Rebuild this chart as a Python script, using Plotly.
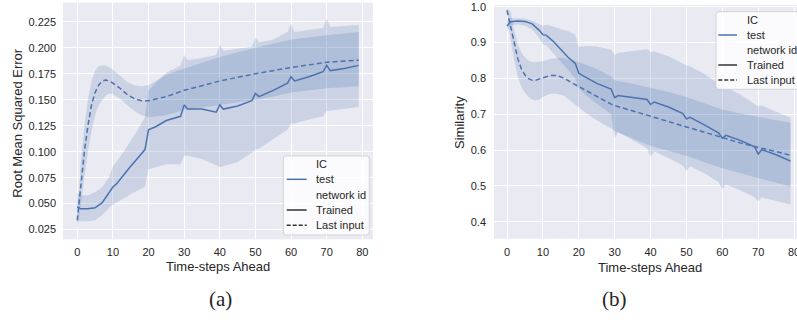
import plotly.graph_objects as go

W, H = 797, 320

# ---------------- Panel (a): Root Mean Squared Error ----------------
a_tr_t = [0, 1, 3, 5, 7, 9, 10, 11, 13, 15, 17, 19, 20, 22, 25, 29, 30, 31, 35, 39, 40, 41,
          45, 49, 50, 51, 55, 59, 60, 61, 65, 69, 70, 71, 75, 79]
a_tr_mean = [0.047, 0.045, 0.045, 0.046, 0.051, 0.061, 0.066, 0.069, 0.078, 0.086, 0.094, 0.102,
             0.121, 0.124, 0.130, 0.134, 0.145, 0.141, 0.141, 0.138, 0.145, 0.141, 0.144, 0.149,
             0.156, 0.153, 0.159, 0.166, 0.172, 0.168, 0.172, 0.177, 0.183, 0.178, 0.180, 0.183]
a_tr_hi = [0.060, 0.058, 0.058, 0.061, 0.066, 0.076, 0.086, 0.090, 0.100, 0.110, 0.121, 0.133,
           0.159, 0.166, 0.176, 0.183, 0.193, 0.188, 0.190, 0.193, 0.203, 0.197, 0.199, 0.201,
           0.210, 0.205, 0.208, 0.215, 0.223, 0.215, 0.217, 0.219, 0.228, 0.220, 0.221, 0.222]
a_tr_lo = [0.033, 0.033, 0.033, 0.034, 0.039, 0.046, 0.049, 0.051, 0.055, 0.059, 0.063, 0.066,
           0.083, 0.085, 0.088, 0.088, 0.096, 0.096, 0.093, 0.087, 0.085, 0.086, 0.090, 0.099,
           0.102, 0.103, 0.112, 0.121, 0.127, 0.127, 0.131, 0.134, 0.139, 0.139, 0.141, 0.143]

a_li_t = [0, 1, 2, 3, 4, 5, 6, 7, 8, 9, 10, 12, 14, 16, 18, 20, 25, 30, 40, 50, 55, 60, 70, 79]
a_li_mean = [0.034, 0.068, 0.100, 0.125, 0.145, 0.157, 0.164, 0.168, 0.169, 0.168, 0.166, 0.161,
             0.155, 0.151, 0.149, 0.149, 0.153, 0.159, 0.168, 0.175, 0.178, 0.181, 0.186, 0.188]
a_li_hi = [0.045, 0.090, 0.125, 0.150, 0.168, 0.178, 0.182, 0.183, 0.183, 0.181, 0.179, 0.173,
           0.167, 0.164, 0.163, 0.164, 0.174, 0.180, 0.191, 0.200, 0.204, 0.208, 0.212, 0.215]
a_li_lo = [0.024, 0.050, 0.075, 0.100, 0.120, 0.135, 0.145, 0.150, 0.154, 0.156, 0.155, 0.151,
           0.145, 0.139, 0.135, 0.133, 0.135, 0.140, 0.145, 0.150, 0.153, 0.157, 0.161, 0.163]

# ---------------- Panel (b): Similarity ----------------
b_tr_t = a_tr_t
b_tr_mean = [0.946, 0.958, 0.960, 0.959, 0.952, 0.934, 0.922, 0.920, 0.902, 0.880, 0.859, 0.842,
             0.814, 0.803, 0.786, 0.770, 0.746, 0.752, 0.747, 0.741, 0.727, 0.734, 0.720, 0.702,
             0.687, 0.691, 0.670, 0.647, 0.633, 0.641, 0.627, 0.609, 0.589, 0.601, 0.587, 0.569]
b_tr_hi = [0.962, 0.968, 0.968, 0.966, 0.961, 0.952, 0.947, 0.950, 0.945, 0.938, 0.932, 0.922,
           0.888, 0.890, 0.889, 0.880, 0.866, 0.871, 0.876, 0.881, 0.874, 0.875, 0.862, 0.842,
           0.836, 0.834, 0.812, 0.785, 0.780, 0.776, 0.755, 0.728, 0.722, 0.724, 0.706, 0.690]
b_tr_lo = [0.930, 0.948, 0.950, 0.947, 0.936, 0.912, 0.895, 0.892, 0.868, 0.845, 0.823, 0.800,
           0.772, 0.752, 0.730, 0.700, 0.633, 0.650, 0.628, 0.605, 0.581, 0.596, 0.578, 0.556,
           0.542, 0.555, 0.535, 0.510, 0.490, 0.503, 0.488, 0.468, 0.457, 0.468, 0.458, 0.448]

b_li_t = [0, 1, 2, 3, 4, 5, 6, 7, 8, 9, 10, 12, 14, 16, 18, 20, 22, 25, 29, 30, 35, 40, 45, 50,
          55, 60, 65, 70, 75, 79]
b_li_mean = [0.990, 0.945, 0.893, 0.855, 0.826, 0.809, 0.799, 0.795, 0.795, 0.798, 0.801, 0.808,
             0.808, 0.800, 0.788, 0.777, 0.765, 0.749, 0.728, 0.724, 0.709, 0.694, 0.679, 0.664,
             0.648, 0.633, 0.620, 0.607, 0.596, 0.585]
b_li_hi = [0.998, 0.985, 0.935, 0.895, 0.872, 0.858, 0.850, 0.846, 0.845, 0.846, 0.848, 0.854,
           0.857, 0.856, 0.851, 0.845, 0.838, 0.826, 0.805, 0.795, 0.785, 0.774, 0.762, 0.748,
           0.730, 0.713, 0.702, 0.693, 0.684, 0.676]
b_li_lo = [0.982, 0.905, 0.850, 0.805, 0.776, 0.760, 0.748, 0.741, 0.739, 0.741, 0.748, 0.757,
           0.757, 0.751, 0.735, 0.718, 0.703, 0.683, 0.660, 0.653, 0.632, 0.612, 0.597, 0.584,
           0.566, 0.549, 0.535, 0.521, 0.509, 0.498]

x_ticks = [0, 10, 20, 30, 40, 50, 60, 70, 80]
a_y_ticks = [0.025, 0.050, 0.075, 0.100, 0.125, 0.150, 0.175, 0.200, 0.225]
a_y_ticktext = ["0.025", "0.050", "0.075", "0.100", "0.125", "0.150", "0.175", "0.200", "0.225"]
b_y_ticks = [0.4, 0.5, 0.6, 0.7, 0.8, 0.9, 1.0]
b_y_ticktext = ["0.4", "0.5", "0.6", "0.7", "0.8", "0.9", "1.0"]

legend_rows = ["IC", "test", "network id", "Trained", "Last input"]

BLUE = "#4c72b0"
BAND = "rgba(76,114,176,0.2)"
FONT = "Liberation Sans, Arial, sans-serif"
SERIF = "Liberation Serif, DejaVu Serif, serif"
TXT = "#262626"


def px(x):
    return x / W


def py(y):
    return 1 - y / H


fig = go.Figure()


def add_panel(t, mean, lo, hi, t2, mean2, lo2, hi2, xa, ya):
    for tt, l, h in ((t, lo, hi), (t2, lo2, hi2)):
        fig.add_trace(go.Scatter(x=list(tt) + list(tt)[::-1], y=list(h) + list(l)[::-1],
                                 fill="toself", fillcolor=BAND, line=dict(width=0),
                                 mode="lines", hoverinfo="skip", showlegend=False,
                                 xaxis=xa, yaxis=ya))
    fig.add_trace(go.Scatter(x=t, y=mean, mode="lines", line=dict(color=BLUE, width=1.5),
                             showlegend=False, xaxis=xa, yaxis=ya, name="Trained"))
    fig.add_trace(go.Scatter(x=t2, y=mean2, mode="lines",
                             line=dict(color=BLUE, width=1.5, dash="5px,3px"),
                             showlegend=False, xaxis=xa, yaxis=ya, name="Last input"))


add_panel(a_tr_t, a_tr_mean, a_tr_lo, a_tr_hi, a_li_t, a_li_mean, a_li_lo, a_li_hi, "x", "y")
add_panel(b_tr_t, b_tr_mean, b_tr_lo, b_tr_hi, b_li_t, b_li_mean, b_li_lo, b_li_hi, "x2", "y2")

axis_common = dict(showgrid=True, gridcolor="white", gridwidth=1, zeroline=False,
                   showline=False, ticks="", tickfont=dict(family=FONT, size=11, color=TXT))

fig.update_layout(
    width=W, height=H,
    margin=dict(l=0, r=0, t=0, b=0, autoexpand=False),
    paper_bgcolor="white", plot_bgcolor="#EAEAF2",
    showlegend=False,
    xaxis=dict(domain=[px(63), px(373)], range=[-4.0, 83.0], tickvals=x_ticks,
               anchor="y", ticklabelstandoff=5, **axis_common),
    yaxis=dict(domain=[py(239.3), py(2.7)], range=[0.0157, 0.2433], tickvals=a_y_ticks,
               ticktext=a_y_ticktext, anchor="x", ticklabelstandoff=6, **axis_common),
    xaxis2=dict(domain=[px(494), 1.0], range=[-3.63, 80.8], tickvals=x_ticks,
                anchor="y2", ticklabelstandoff=5, ticklabeloverflow="allow", **axis_common),
    yaxis2=dict(domain=[py(238.7), py(5)], range=[0.3526, 1.0047], tickvals=b_y_ticks,
                ticktext=b_y_ticktext, anchor="x2", ticklabelstandoff=7, **axis_common),
)

ann = []


def text(x, y, s, size=13, angle=0, family=FONT, xanchor="center"):
    ann.append(dict(x=px(x), y=py(y), xref="paper", yref="paper", text=s, showarrow=False,
                    textangle=angle, xanchor=xanchor, yanchor="middle",
                    font=dict(family=family, size=size, color=TXT)))


text(16.7, 123, "Root Mean Squared Error", angle=-90)
text(218, 266.5, "Time-steps Ahead")
text(459, 123, "Similarity", angle=-90)
text(650, 267, "Time-steps Ahead")
text(220, 299, "(a)", size=21, family=SERIF)
text(614, 299, "(b)", size=21, family=SERIF)

shapes = []


def legend(x0, y0, x1, y1, line_x0, line_x1, text_x, rows_y):
    r = 3
    path = (f"M {px(x0 + r)},{py(y0)} L {px(x1 - r)},{py(y0)} Q {px(x1)},{py(y0)} {px(x1)},{py(y0 + r)} "
            f"L {px(x1)},{py(y1 - r)} Q {px(x1)},{py(y1)} {px(x1 - r)},{py(y1)} "
            f"L {px(x0 + r)},{py(y1)} Q {px(x0)},{py(y1)} {px(x0)},{py(y1 - r)} "
            f"L {px(x0)},{py(y0 + r)} Q {px(x0)},{py(y0)} {px(x0 + r)},{py(y0)} Z")
    shapes.append(dict(type="path", path=path, xref="paper", yref="paper",
                       fillcolor="rgba(255,255,255,0.8)", line=dict(color="rgba(204,204,204,0.8)", width=1)))
    styles = [None, (BLUE, "solid"), None, ("#333333", "solid"), ("#333333", "4px,2px")]
    for label, yy, st in zip(legend_rows, rows_y, styles):
        if st is not None:
            shapes.append(dict(type="line", xref="paper", yref="paper",
                               x0=px(line_x0), x1=px(line_x1), y0=py(yy), y1=py(yy),
                               line=dict(color=st[0], width=1.5, dash=st[1])))
        ann.append(dict(x=px(text_x), y=py(yy), xref="paper", yref="paper", text=label,
                        showarrow=False, xanchor="left", yanchor="middle",
                        font=dict(family=FONT, size=11, color=TXT)))


legend(283.3, 156, 369.3, 235, 286.7, 306.7, 314, [164, 179.3, 194.7, 210, 225.3])
legend(716, 11.7, 815, 89.3, 718.3, 737, 745, [20, 35, 50, 65, 80])

fig.update_layout(annotations=ann, shapes=shapes)
fig.write_html("out.html", config={"displayModeBar": False},
               post_script="document.body.style.margin='0px';")
